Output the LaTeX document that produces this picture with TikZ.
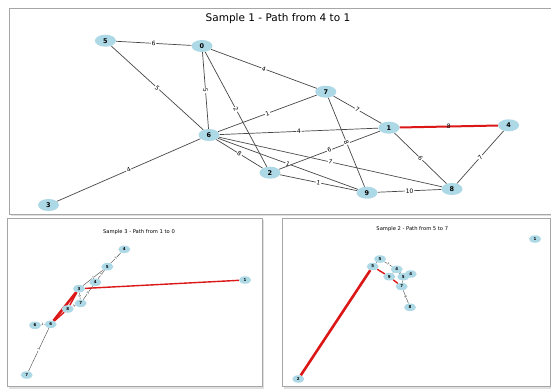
\documentclass[tikz,border=0pt]{standalone}
\usepackage{fontspec}
\setmainfont{DejaVu Sans}
\usetikzlibrary{shapes.geometric}
\pgfdeclarelayer{back}
\pgfdeclarelayer{edges}
\pgfsetlayers{back,edges,main}
\definecolor{nodeblue}{HTML}{ADD8E6}
\definecolor{pathred}{rgb}{0.86,0.09,0.09}
\tikzset{
  panel/.style={fill=white, draw=black!35, line width=0.8pt},
  panelshadow/.style={fill=black!12},
  bignode/.style={ellipse, fill=nodeblue, minimum width=21pt, minimum height=12pt,
    inner sep=0pt, font=\fontsize{6.5}{7}\selectfont\bfseries},
  smallnode/.style={ellipse, fill=nodeblue, minimum width=12pt, minimum height=7.5pt,
    inner sep=0pt, font=\fontsize{4}{4}\selectfont\bfseries},
  bigedge/.style={draw=black!72, line width=0.7pt},
  smalledge/.style={draw=black!72, line width=0.4pt},
  bigpath/.style={draw=pathred, line width=2pt},
  smallpath/.style={draw=pathred, line width=1.4pt},
  thickpath/.style={draw=pathred, line width=2.6pt},
  wlab/.style={midway, sloped, fill=white, inner sep=0.8pt, font=\fontsize{6}{6}\selectfont},
  plab/.style={midway, sloped, inner sep=0.5pt, font=\fontsize{6}{6}\selectfont},
  slab/.style={midway, sloped, fill=white, inner sep=0.3pt, font=\fontsize{3}{3}\selectfont},
  ttl/.style={font=\fontsize{10.5}{12}\selectfont},
  sttl/.style={font=\fontsize{5.2}{6}\selectfont},
}
\begin{document}
\begin{tikzpicture}[x=1pt, y=-1pt]
\useasboundingbox (0,0) rectangle (551,388);
\begin{pgfonlayer}{back}
  \fill[white] (0,0) rectangle (551,388);
  % panel frames with a light drop shadow
  \fill[panelshadow] (10.5,9.5) rectangle (555,215.5);
  \draw[panel] (9,8) rectangle (555,214);
  \fill[panelshadow] (8.5,219.5) rectangle (264,389);
  \draw[panel] (7,218) rectangle (262.5,386.5);
  \fill[panelshadow] (283.5,219.5) rectangle (552,389);
  \draw[panel] (282,218) rectangle (550.5,386.5);
\end{pgfonlayer}

% ---------- Sample 1 ----------
\node[ttl] (t1) at (278,19) {Sample 1 - Path from 4 to 1};
\node[bignode] (n5) at (105.4,40.7) {5};
\node[bignode] (n0) at (202,46) {0};
\node[bignode] (n7) at (325.8,91.7) {7};
\node[bignode] (n1) at (389,127.7) {1};
\node[bignode] (n4) at (508.6,125.3) {4};
\node[bignode] (n6) at (209,135) {6};
\node[bignode] (n2) at (270,172.7) {2};
\node[bignode] (n9) at (367,192.7) {9};
\node[bignode] (n8) at (452,189) {8};
\node[bignode] (n3) at (48.5,205) {3};

\begin{pgfonlayer}{edges}
  \draw[bigedge] (n5) -- node[wlab]{6} (n0);
  \draw[bigedge] (n5) -- node[wlab]{5} (n6);
  \draw[bigedge] (n0) -- node[wlab]{5} (n6);
  \draw[bigedge] (n0) -- node[wlab]{2} (n2);
  \draw[bigedge] (n0) -- node[wlab]{4} (n7);
  \draw[bigedge] (n7) -- node[wlab]{1} (n6);
  \draw[bigedge] (n7) -- node[wlab]{7} (n1);
  \draw[bigedge] (n6) -- node[wlab]{4} (n1);
  \draw[bigedge] (n1) -- node[wlab]{6} (n8);
  \draw[bigedge] (n4) -- node[wlab]{7} (n8);
  \draw[bigedge] (n6) -- node[wlab]{8} (n2);
  \draw[bigedge] (n6) -- node[wlab]{7} (n8);
  \draw[bigedge] (n2) -- node[wlab]{1} (n9);
  \draw[bigedge] (n9) -- node[wlab]{10} (n8);
  \draw[bigedge] (n6) -- node[wlab]{4} (n3);
  \draw[bigedge] (n6) -- node[wlab]{1} (n9);
  \draw[bigedge] (n1) -- node[wlab]{6} (n2);
  \draw[bigedge] (n7) -- node[wlab]{8} (n9);
  \draw[bigpath] (n1) -- node[plab]{8} (n4);
\end{pgfonlayer}

% ---------- Sample 3 ----------
\node[sttl] (t3) at (139,232) {Sample 3 - Path from 1 to 0};
\node[smallnode] (b4a) at (124.3,249.3) {4};
\node[smallnode] (b5)  at (107.3,266.7) {5};
\node[smallnode] (b4b) at (95.3,282.3) {4};
\node[smallnode] (b3)  at (79,288.7) {3};
\node[smallnode] (b7a) at (80.7,303.3) {7};
\node[smallnode] (b8)  at (67.7,309) {8};
\node[smallnode] (b6a) at (50.7,324.3) {6};
\node[smallnode] (b6b) at (35,325.3) {6};
\node[smallnode] (b7b) at (26.7,375) {7};
\node[smallnode] (b1)  at (245,280) {1};

\begin{pgfonlayer}{edges}
  \draw[smalledge] (b4a) -- node[slab]{1} (b5);
  \draw[smalledge] (b5) -- node[slab]{2} (b3);
  \draw[smalledge] (b5) -- node[slab]{1} (b4b);
  \draw[smalledge] (b4b) -- node[slab]{3} (b7a);
  \draw[smalledge] (b3) -- node[slab]{5} (b7a);
  \draw[smalledge] (b7a) -- node[slab]{5} (b8);
  \draw[smalledge] (b6a) -- node[slab]{1} (b6b);
  \draw[smalledge] (b6a) -- node[slab]{1} (b7b);
  \draw[smallpath] (b3) -- (b1);
  \draw[thickpath] (b3) -- (b6a);
  \draw[smallpath] (b3) -- (b8);
  \draw[smallpath] (b8) -- (b6a);
\end{pgfonlayer}

% ---------- Sample 2 ----------
\node[sttl] (t2) at (412.3,229) {Sample 2 - Path from 5 to 7};
\node[smallnode] (c5a) at (380,259) {5};
\node[smallnode] (c5b) at (372.7,266.5) {5};
\node[smallnode] (c4a) at (396.7,269.3) {4};
\node[smallnode] (c9)  at (389.3,276.7) {9};
\node[smallnode] (c5c) at (403.3,276.7) {5};
\node[smallnode] (c4b) at (410.7,274) {4};
\node[smallnode] (c7)  at (401.7,286.5) {7};
\node[smallnode] (c8)  at (410,307.3) {8};
\node[smallnode] (c1)  at (535,239) {1};
\node[smallnode] (c2)  at (298.3,379) {2};

\begin{pgfonlayer}{edges}
  \draw[smalledge] (c5b) -- (c5a);
  \draw[smalledge] (c5a) -- node[slab]{7} (c4a);
  \draw[smalledge] (c4a) -- (c9);
  \draw[smalledge] (c4a) -- node[slab]{1} (c5c);
  \draw[smalledge] (c5c) -- (c4b);
  \draw[smalledge] (c5c) -- (c7);
  \draw[smalledge] (c7) -- node[slab]{8} (c8);
  \draw[thickpath] (c2) -- (c5b);
  \draw[smallpath] (c5b) -- (c9);
  \draw[smallpath] (c9) -- (c7);
\end{pgfonlayer}
\end{tikzpicture}
\end{document}
